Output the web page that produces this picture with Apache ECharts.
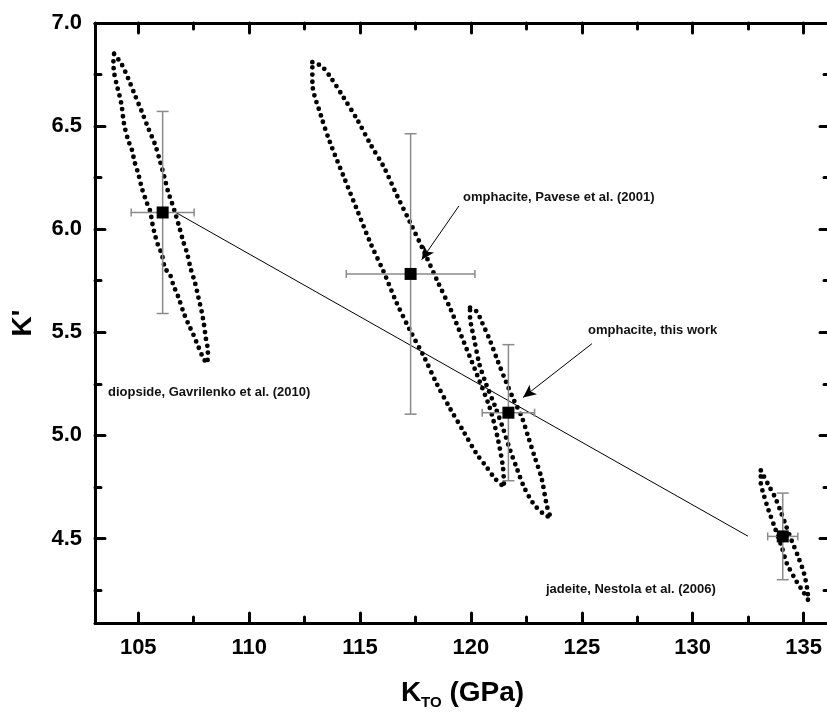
<!DOCTYPE html>
<html>
<head>
<meta charset="utf-8">
<script src="https://cdn.jsdelivr.net/npm/echarts@6/dist/echarts.min.js"></script>
<style>
  html, body { margin: 0; padding: 0; background: #fff; }
  #chart { width: 827px; height: 713px; }
</style>
</head>
<body>
<div id="chart"></div>
<script>
// K (GPa) / K' results with their errors
const names = ['diopside', 'omphacite Pavese', 'omphacite this work', 'jadeite'];
const kVals = [106.10, 117.28, 121.69, 134.06];
const kpVals = [6.081, 5.783, 5.110, 4.510];
const kErr = [1.42, 2.90, 1.18, 0.68];
const kpErr = [0.49, 0.68, 0.33, 0.21];

// linear trend through the results
const fitLine = [[106.66, 6.083], [132.49, 4.511]];

// confidence ellipses
const diopsideLoop = [
  [103.91, 6.85], [104.25, 6.80], [104.55, 6.73], [104.85, 6.65], [105.16, 6.57],
  [105.45, 6.49], [105.76, 6.41], [105.98, 6.33], [106.16, 6.26], [106.35, 6.18],
  [106.51, 6.13], [106.66, 6.08], [106.85, 6.01], [107.03, 5.94], [107.21, 5.88],
  [107.36, 5.81], [107.56, 5.74], [107.71, 5.67], [107.86, 5.60], [107.96, 5.54],
  [108.05, 5.47], [108.14, 5.41], [108.09, 5.35],
  [107.91, 5.38], [107.71, 5.43], [107.48, 5.49], [107.26, 5.54], [107.03, 5.60],
  [106.81, 5.67], [106.58, 5.73], [106.43, 5.78], [106.21, 5.81], [106.06, 5.88],
  [105.90, 5.92], [105.76, 5.97], [105.65, 6.02], [105.53, 6.09], [105.38, 6.13],
  [105.16, 6.20], [105.00, 6.27], [104.85, 6.32], [104.70, 6.39], [104.55, 6.43],
  [104.36, 6.51], [104.25, 6.60], [104.15, 6.65], [104.03, 6.70], [103.91, 6.76],
  [103.88, 6.81], [103.91, 6.85]
];
const paveseLoop = [
  [112.85, 6.81], [113.27, 6.79], [113.65, 6.74], [114.25, 6.64], [114.88, 6.53],
  [115.48, 6.41], [116.08, 6.30], [116.68, 6.16], [117.27, 6.03], [117.89, 5.89],
  [118.48, 5.75], [119.09, 5.61], [119.69, 5.45], [120.29, 5.29], [120.86, 5.13],
  [121.22, 4.98], [121.45, 4.84], [121.49, 4.75],
  [121.09, 4.79], [120.68, 4.85], [120.26, 4.91], [119.66, 5.02], [119.06, 5.13],
  [118.46, 5.25], [117.89, 5.38], [117.25, 5.51], [116.62, 5.65], [116.08, 5.79],
  [115.48, 5.93], [114.88, 6.09], [114.28, 6.25], [113.65, 6.42], [113.24, 6.55],
  [112.85, 6.71], [112.85, 6.81]
];
const thisWorkLoop = [
  [119.96, 5.62], [120.26, 5.60], [120.49, 5.55], [120.86, 5.46], [121.21, 5.36],
  [121.58, 5.26], [121.94, 5.17], [122.29, 5.09], [122.59, 4.99], [122.89, 4.89],
  [123.19, 4.79], [123.42, 4.66], [123.60, 4.60],
  [123.26, 4.62], [122.81, 4.67], [122.39, 4.75], [122.07, 4.84], [121.76, 4.93],
  [121.46, 5.03], [121.09, 5.14], [120.68, 5.25], [120.37, 5.35], [120.14, 5.47],
  [120.04, 5.52], [119.96, 5.57], [119.96, 5.62]
];
const jadeiteLoop = [
  [133.07, 4.83], [133.41, 4.76], [133.71, 4.70], [133.97, 4.63], [134.21, 4.56],
  [134.46, 4.49], [134.76, 4.41], [135.02, 4.33], [135.17, 4.25], [135.21, 4.20],
  [134.99, 4.24], [134.69, 4.29], [134.24, 4.38], [134.01, 4.46], [133.71, 4.55],
  [133.41, 4.64], [133.18, 4.72], [133.07, 4.77], [133.07, 4.83]
];

// arrows: [from, to]
const arrows = [
  [[119.46, 6.113], [117.78, 5.852]],
  [[125.46, 5.445], [122.35, 5.184]]
];

// axis ticks
const xMajor = [105, 110, 115, 120, 125, 130, 135];
const xMinor = [107.5, 112.5, 117.5, 122.5, 127.5, 132.5];
const yMajor = [4.5, 5.0, 5.5, 6.0, 6.5, 7.0];
const yMinor = [4.25, 4.75, 5.25, 5.75, 6.25, 6.75];

const FONT = '"Liberation Sans", Arial, sans-serif';
const X_MIN = 103.05, X_MAX = 136.19, Y_MIN = 4.09, Y_MAX = 7.0;

const chart = echarts.init(document.getElementById('chart'));

const mkX = (pos, ticks, len, opts) => Object.assign({
  type: 'value', position: pos, min: X_MIN, max: X_MAX, gridIndex: 0,
  axisLine: { show: true, lineStyle: { color: '#000', width: 3 } },
  axisTick: { show: true, inside: true, length: len, customValues: ticks,
    lineStyle: { color: '#000', width: 3, cap: 'round' } },
  axisLabel: { show: false, customValues: ticks },
  splitLine: { show: false }
}, opts || {});
const mkY = (pos, ticks, len, opts) => Object.assign({
  type: 'value', position: pos, min: Y_MIN, max: Y_MAX, gridIndex: 0,
  axisLine: { show: true, lineStyle: { color: '#000', width: 3 } },
  axisTick: { show: true, inside: true, length: len, customValues: ticks,
    lineStyle: { color: '#000', width: 3, cap: 'round' } },
  axisLabel: { show: false, customValues: ticks },
  splitLine: { show: false }
}, opts || {});

const loopSeries = (data) => ({
  type: 'line', data: data, symbol: 'none', smooth: 0.3, silent: true,
  lineStyle: { color: '#000', width: 4.8, type: [0, 7], cap: 'round' },
  z: 3
});

const option = {
  animation: false,
  grid: { left: 95, top: 23, width: 735, height: 600, containLabel: false, outerBoundsMode: 'none' },
  xAxis: [
    mkX('bottom', xMajor, 10, {
      axisLabel: { show: true, customValues: xMajor, margin: 14,
        fontFamily: FONT, fontWeight: 'bold', fontSize: 22, color: '#000',
        formatter: (v) => String(v) },
      name: '{k|K}{s|TO}{k| (GPa)}', nameLocation: 'middle', nameGap: 53,
      nameTextStyle: { rich: {
        k: { fontFamily: FONT, fontWeight: 'bold', fontSize: 28, color: '#000', lineHeight: 34 },
        s: { fontFamily: FONT, fontWeight: 'bold', fontSize: 15, color: '#000', lineHeight: 34,
             verticalAlign: 'bottom', padding: [16, 0, 0, 0] }
      } }
    }),
    mkX('bottom', xMinor, 6, { axisLine: { show: false } }),
    mkX('top', xMajor, 10),
    mkX('top', xMinor, 6, { axisLine: { show: false } })
  ],
  yAxis: [
    mkY('left', yMajor, 10, {
      axisLabel: { show: true, customValues: yMajor, margin: 13,
        fontFamily: FONT, fontWeight: 'bold', fontSize: 22, color: '#000',
        formatter: (v) => v.toFixed(1) },
      name: "K'", nameLocation: 'middle', nameRotate: 90, nameGap: 58,
      nameTextStyle: { fontFamily: FONT, fontWeight: 'bold', fontSize: 28, color: '#000' }
    }),
    mkY('left', yMinor, 6, { axisLine: { show: false } }),
    mkY('right', yMajor, 10),
    mkY('right', yMinor, 6, { axisLine: { show: false } })
  ],
  series: [
    loopSeries(diopsideLoop),
    loopSeries(paveseLoop),
    loopSeries(thisWorkLoop),
    loopSeries(jadeiteLoop),
    {
      type: 'line', data: fitLine, symbol: 'none', silent: true, z: 2,
      lineStyle: { color: '#000', width: 1 },
      markLine: {
        silent: true, symbol: ['none', 'arrow'], symbolSize: [9, 13],
        label: { show: false },
        lineStyle: { color: '#000', width: 1, type: 'solid' },
        data: arrows.map(a => [{ coord: a[0] }, { coord: a[1] }])
      }
    },
    {
      type: 'custom', z: 4, silent: true,
      data: kVals.map((k, i) => [k, kpVals[i], kErr[i], kpErr[i]]),
      encode: { x: 0, y: 1 },
      renderItem: (params, api) => {
        const x = api.value(0), y = api.value(1), ex = api.value(2), ey = api.value(3);
        const l = api.coord([x - ex, y]), r = api.coord([x + ex, y]);
        const t = api.coord([x, y + ey]), b = api.coord([x, y - ey]);
        const st = { stroke: '#8a8a8a', lineWidth: 1.5 };
        const seg = (x1, y1, x2, y2) => ({ type: 'line', shape: { x1, y1, x2, y2 }, style: st });
        return { type: 'group', children: [
          seg(l[0], l[1], r[0], r[1]),
          seg(t[0], t[1], b[0], b[1]),
          seg(l[0], l[1] - 4, l[0], l[1] + 4),
          seg(r[0], r[1] - 4, r[0], r[1] + 4),
          seg(t[0] - 6, t[1], t[0] + 6, t[1]),
          seg(b[0] - 6, b[1], b[0] + 6, b[1])
        ] };
      }
    },
    {
      type: 'scatter', z: 5, silent: true,
      data: kVals.map((k, i) => [k, kpVals[i]]),
      symbol: 'rect', symbolSize: 12,
      itemStyle: { color: '#000', opacity: 1 }
    }
  ],
  graphic: [
    { type: 'text', left: 463, top: 191, silent: true,
      style: { text: 'omphacite, Pavese et al. (2001)', font: 'bold 13px ' + FONT, fill: '#111' } },
    { type: 'text', left: 588, top: 324, silent: true,
      style: { text: 'omphacite, this work', font: 'bold 13px ' + FONT, fill: '#111' } },
    { type: 'text', left: 108, top: 386, silent: true,
      style: { text: 'diopside, Gavrilenko et al. (2010)', font: 'bold 13px ' + FONT, fill: '#111' } },
    { type: 'text', left: 546, top: 583, silent: true,
      style: { text: 'jadeite, Nestola et al. (2006)', font: 'bold 13px ' + FONT, fill: '#111' } }
  ]
};

chart.setOption(option);
</script>
</body>
</html>
